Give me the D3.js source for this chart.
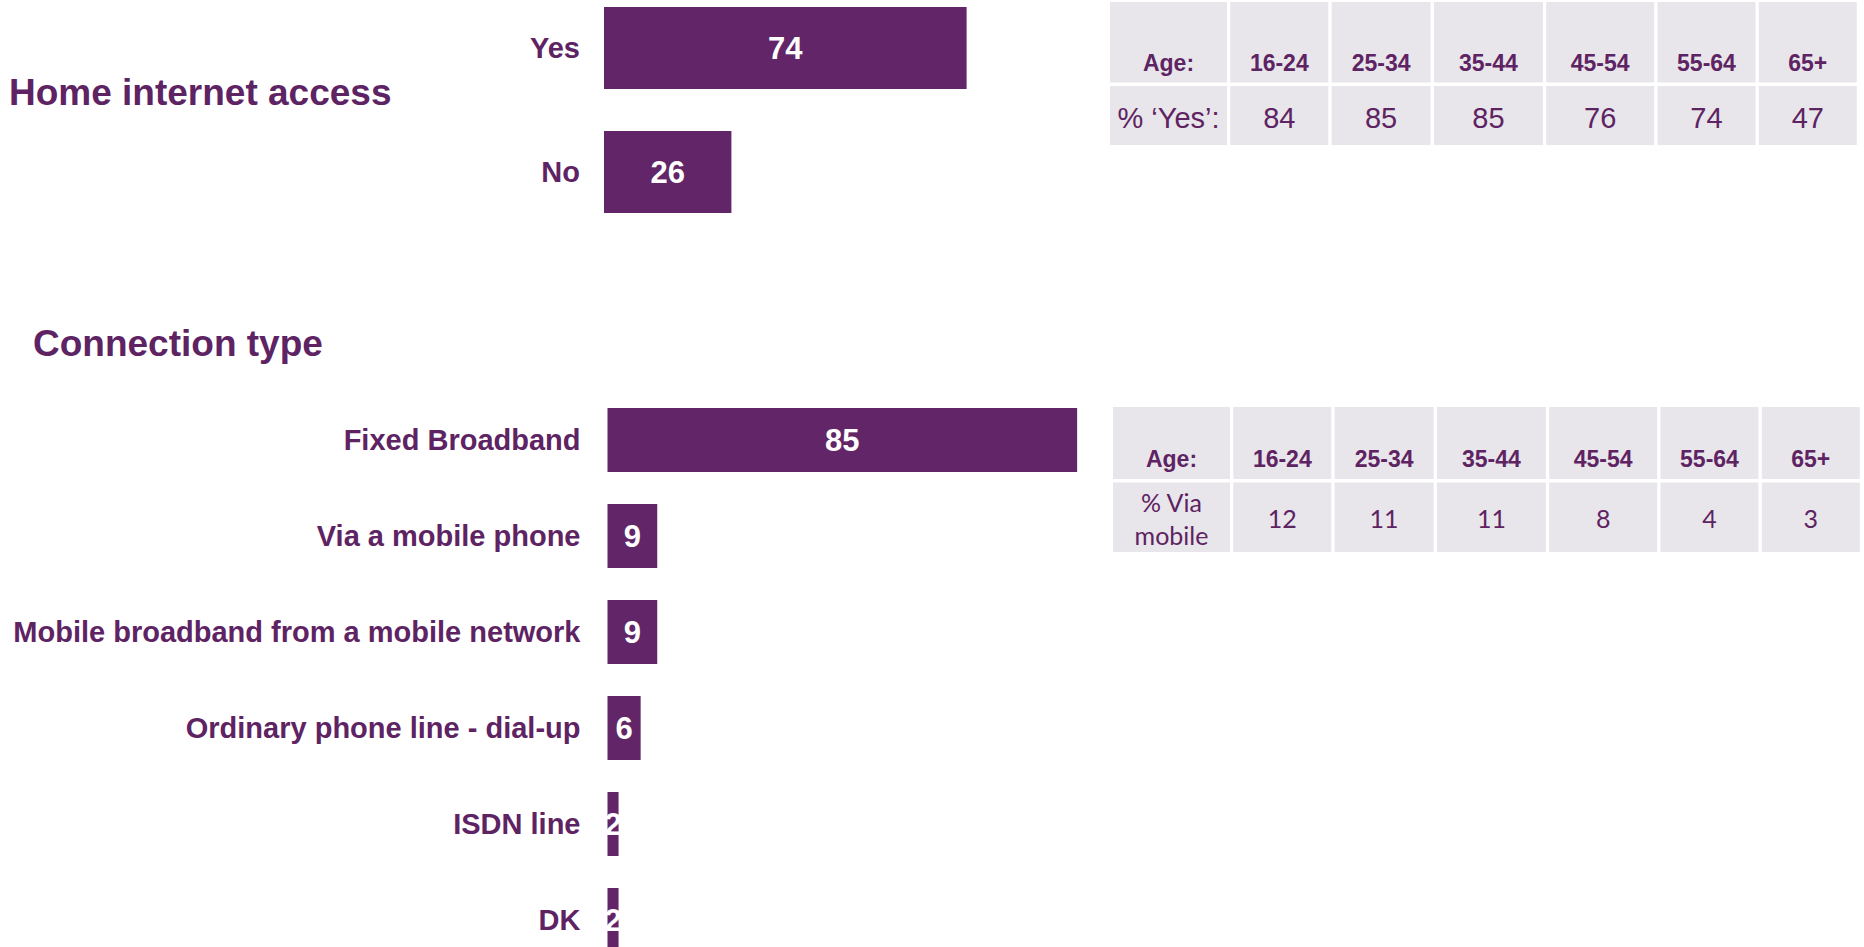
<!DOCTYPE html>
<html>
<head>
<meta charset="utf-8">
<script src="https://cdn.jsdelivr.net/npm/d3@7"></script>
<style>
  html, body { margin: 0; padding: 0; background: #ffffff; }
  svg { display: block; }
</style>
</head>
<body>
<svg id="chart" width="1864" height="947"></svg>
<script>
// ---- Data ----
const accessCategories = ["Yes", "No"];
const accessValues = [74, 26];

const connectionCategories = [
  "Fixed Broadband",
  "Via a mobile phone",
  "Mobile broadband from a mobile network",
  "Ordinary phone line - dial-up",
  "ISDN line",
  "DK"
];
const connectionValues = [85, 9, 9, 6, 2, 2];

const ageGroups = ["16-24", "25-34", "35-44", "45-54", "55-64", "65+"];
const yesByAge = [84, 85, 85, 76, 74, 47];
const mobileByAge = [12, 11, 11, 8, 4, 3];

// ---- Styling ----
const PURPLE = "#622567";
const TEXT = "#5e2363";
const CELL = "#e8e6ea";
const SANS = "'Liberation Sans', Arial, sans-serif";

const svg = d3.select("#chart");

// Section titles
svg.append("text")
  .attr("x", 9).attr("y", 105)
  .attr("font-family", SANS).attr("font-weight", "bold").attr("font-size", 37)
  .attr("fill", TEXT)
  .text("Home internet access");

svg.append("text")
  .attr("x", 33).attr("y", 356)
  .attr("font-family", SANS).attr("font-weight", "bold").attr("font-size", 37)
  .attr("fill", TEXT)
  .text("Connection type");

// Horizontal bar block: labels on the left, value inside the bar
function barBlock(cats, vals, opts) {
  const x = d3.scaleLinear().domain([0, 100]).range([opts.x0, opts.x0 + opts.pxPer100]);
  const y = d3.scaleBand().domain(cats)
    .range([opts.y0, opts.y0 + cats.length * opts.step - opts.gap])
    .paddingInner(opts.gap / opts.step).paddingOuter(0);

  const g = svg.append("g");
  const rows = g.selectAll("g.row").data(cats.map((c, i) => ({ c, v: vals[i] })))
    .join("g").attr("class", "row");

  rows.append("rect")
    .attr("x", x(0))
    .attr("y", d => y(d.c))
    .attr("width", d => x(d.v) - x(0))
    .attr("height", y.bandwidth())
    .attr("fill", PURPLE);

  rows.append("text")
    .attr("x", x(0) - opts.labelGap)
    .attr("y", d => y(d.c) + y.bandwidth() / 2)
    .attr("dy", "0.35em")
    .attr("text-anchor", "end")
    .attr("font-family", SANS).attr("font-weight", "bold").attr("font-size", 29)
    .attr("fill", TEXT)
    .text(d => d.c);

  rows.append("text")
    .attr("x", d => (x(0) + x(d.v)) / 2)
    .attr("y", d => y(d.c) + y.bandwidth() / 2)
    .attr("dy", "0.36em")
    .attr("text-anchor", "middle")
    .attr("font-family", SANS).attr("font-weight", "bold").attr("font-size", 31)
    .attr("fill", "#ffffff")
    .text(d => d.v);
}

barBlock(accessCategories, accessValues,
  { x0: 604, pxPer100: 490, y0: 7, step: 124, gap: 42, labelGap: 24 });

barBlock(connectionCategories, connectionValues,
  { x0: 607.5, pxPer100: 552.5, y0: 408, step: 96, gap: 32, labelGap: 27 });

// Age breakdown tables
const colWidths = [117, 98, 99, 109, 108, 98, 98];
const colGap = 3.3;

function ageTable(opts) {
  const g = svg.append("g");
  const edges = [];
  let cx = opts.x0;
  colWidths.forEach(w => { edges.push([cx, cx + w]); cx += w + colGap; });

  const headers = ["Age:"].concat(ageGroups);
  const values = [opts.rowLabel].concat(opts.values);

  // cells
  edges.forEach(([a, b]) => {
    g.append("rect").attr("x", a).attr("y", opts.h0).attr("width", b - a)
      .attr("height", opts.h1 - opts.h0).attr("fill", CELL);
    g.append("rect").attr("x", a).attr("y", opts.r0).attr("width", b - a)
      .attr("height", opts.r1 - opts.r0).attr("fill", CELL);
  });

  // header row, bottom-aligned
  g.selectAll("text.hdr").data(headers).join("text")
    .attr("class", "hdr")
    .attr("x", (d, i) => (edges[i][0] + edges[i][1]) / 2)
    .attr("y", opts.h1 - 12)
    .attr("text-anchor", "middle")
    .attr("font-family", SANS).attr("font-weight", "bold").attr("font-size", 23)
    .attr("fill", TEXT)
    .text(d => d);

  // value row
  const mid = (opts.r0 + opts.r1) / 2 + opts.valueShift;
  values.forEach((v, i) => {
    const cxm = (edges[i][0] + edges[i][1]) / 2;
    const lines = Array.isArray(v) ? v : [String(v)];
    const t = g.append("text")
      .attr("text-anchor", "middle")
      .attr("font-family", opts.valueFont)
      .attr("font-size", opts.valueSize)
      .attr("fill", TEXT);
    lines.forEach((ln, k) => {
      t.append("tspan")
        .attr("x", cxm)
        .attr("y", mid + (k - (lines.length - 1) / 2) * opts.lineStep)
        .attr("dy", "0.36em")
        .text(ln);
    });
  });
}

ageTable({
  x0: 1110, h0: 2, h1: 82.5, r0: 86, r1: 145,
  rowLabel: "% \u2018Yes\u2019:", values: yesByAge,
  valueFont: SANS, valueSize: 29, valueShift: 2, lineStep: 0
});

ageTable({
  x0: 1113, h0: 407, h1: 479, r0: 482.5, r1: 552,
  rowLabel: ["% Via", "mobile"], values: mobileByAge,
  valueFont: "Lato, 'Open Sans', sans-serif", valueSize: 25, valueShift: 2, lineStep: 33
});
</script>
</body>
</html>
